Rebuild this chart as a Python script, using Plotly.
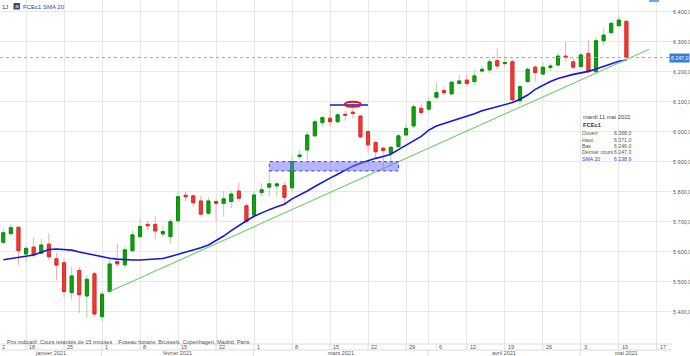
import plotly.graph_objects as go

# ---------------- data ----------------
dates = ["2021-01-13","2021-01-14","2021-01-15","2021-01-18","2021-01-19","2021-01-20","2021-01-21","2021-01-22",
         "2021-01-25","2021-01-26","2021-01-27","2021-01-28","2021-01-29",
         "2021-02-01","2021-02-02","2021-02-03","2021-02-04","2021-02-05","2021-02-08","2021-02-09","2021-02-10",
         "2021-02-11","2021-02-12","2021-02-15","2021-02-16","2021-02-17","2021-02-18","2021-02-19","2021-02-22",
         "2021-02-23","2021-02-24","2021-02-25","2021-02-26",
         "2021-03-01","2021-03-02","2021-03-03","2021-03-04","2021-03-05","2021-03-08","2021-03-09","2021-03-10",
         "2021-03-11","2021-03-12","2021-03-15","2021-03-16","2021-03-17","2021-03-18","2021-03-19","2021-03-22",
         "2021-03-23","2021-03-24","2021-03-25","2021-03-26","2021-03-29","2021-03-30","2021-03-31",
         "2021-04-01","2021-04-06","2021-04-07","2021-04-08","2021-04-09","2021-04-12","2021-04-13","2021-04-14",
         "2021-04-15","2021-04-16","2021-04-19","2021-04-20","2021-04-21","2021-04-22","2021-04-23","2021-04-26",
         "2021-04-27","2021-04-28","2021-04-29","2021-04-30",
         "2021-05-03","2021-05-04","2021-05-05","2021-05-06","2021-05-07","2021-05-10","2021-05-11"]
future_days = ["2021-05-12","2021-05-13","2021-05-14","2021-05-17"]

opens = [5631,5660,5681,5592,5615,5595,5625,5576,5563,5463,5537,5452,5526,
         5383,5467,5567,5556,5603,5650,5691,5691,5659,5650,5703,5788,5786,5769,5728,5767,5761,5767,5802,5753,
         5722,5797,5815,5819,5820,5813,5917,5939,5986,6030,6045,6033,6058,6065,6052,6000,5964,5945,5928,5950,5989,6019,6078,
         6075,6115,6137,6126,6161,6172,6167,6202,6206,6237,6227,6233,6103,6167,6215,6192,6214,6222,6252,6233,
         6217,6261,6200,6303,6330,6353,6368]
highs = [5678,5692,5685,5620,5647,5642,5661,5595,5578,5550,5550,5522,5533,
         5467,5572,5628,5617,5672,5711,5702,5719,5686,5709,5800,5800,5789,5786,5781,5775,5803,5803,5830,5763,
         5803,5828,5872,5833,5833,5917,5939,6000,6039,6052,6089,6063,6070,6097,6056,6006,5970,5948,5952,5992,6030,6094,6094,
         6115,6164,6150,6169,6189,6189,6206,6222,6245,6278,6250,6241,6156,6215,6222,6230,6228,6264,6300,6245,
         6261,6306,6315,6345,6367,6389,6371]
lows = [5625,5653,5556,5567,5581,5592,5572,5506,5448,5439,5395,5378,5383,
        5367,5461,5550,5545,5600,5645,5672,5641,5650,5626,5695,5767,5750,5719,5722,5702,5717,5745,5767,5695,
        5717,5783,5783,5783,5756,5797,5906,5906,5983,6017,6017,6028,6036,6045,5978,5930,5909,5878,5883,5948,5986,6011,6056,
        6061,6108,6122,6122,6161,6152,6156,6195,6195,6211,6217,6100,6089,6161,6167,6189,6203,6219,6233,6208,
        6211,6195,6197,6286,6328,6352,6246]
closes = [5663,5680,5603,5611,5589,5622,5583,5555,5467,5519,5456,5508,5392,
          5458,5559,5559,5606,5656,5684,5686,5669,5667,5700,5783,5783,5763,5725,5769,5761,5776,5792,5778,5700,
          5789,5806,5826,5826,5781,5900,5922,5989,6033,6047,6033,6056,6055,6061,5983,5956,5933,5937,5948,5986,6011,6083,6064,
          6100,6130,6130,6165,6169,6161,6186,6208,6233,6219,6230,6106,6150,6208,6197,6215,6219,6252,6247,6215,
          6256,6200,6303,6322,6361,6372,6247]
sma20 = [5573,5577,5581,5584,5589,5598,5607,5609,5608,5605,5599,5594,5587,
         5582,5578,5575,5573,5572,5572,5573,5574,5577,5584,5591,5599,5606,5613,5622,5636,5652,5670,5688,5703,
         5718,5730,5740,5750,5758,5776,5788,5802,5817,5832,5845,5858,5872,5885,5895,5904,5911,5917,5925,5940,5955,5968,5984,
         6005,6019,6027,6035,6043,6050,6060,6070,6077,6084,6090,6097,6108,6122,6141,6155,6167,6177,6185,6191,
         6196,6201,6209,6217,6226,6235,6239]

# weekly ticks (label, date) and an extra grid line on 1 April
tick_dates = ["2021-01-18","2021-01-25","2021-02-01","2021-02-08","2021-02-15","2021-02-22","2021-03-01","2021-03-08",
              "2021-03-15","2021-03-22","2021-03-29","2021-04-06","2021-04-12","2021-04-19","2021-04-26","2021-05-03",
              "2021-05-10","2021-05-17"]
tick_labels = ["18","25","1","8","15","22","1","8","15","22","29","6","12","19","26","3","10","17"]
grid_dates = ["2021-01-18","2021-01-25","2021-02-01","2021-02-08","2021-02-15","2021-02-22","2021-03-01","2021-03-08",
              "2021-03-15","2021-03-22","2021-03-29","2021-04-01","2021-04-12","2021-04-19","2021-04-26","2021-05-03",
              "2021-05-10","2021-05-17"]
month_labels = ["janvier 2021","février 2021","mars 2021","avril 2021","mai 2021"]
month_starts = ["2021-01-13","2021-02-01","2021-03-01","2021-04-01","2021-05-03"]

price_ticks = [5400,5500,5600,5700,5800,5900,6000,6100,6200,6300,6400]
price_tick_text = ["5 400,0","5 500,0","5 600,0","5 700,0","5 800,0","5 900,0","6 000,0","6 100,0","6 200,0","6 300,0","6 400,0"]

last_price = 6247
last_price_text = "6 247,0"

trend_dates = ["2021-02-02","2021-05-14"]
trend_prices = [5467,6275]

zone_dates = ["2021-03-03","2021-03-26"]
zone_prices = [5869,5900]

high_line_dates = ["2021-03-15","2021-03-22"]
high_line_price = 6089
circle_date = "2021-03-18"
circle_prices = [6083,6100]

info_title = "mardi 11 mai 2021"
info_symbol = "FCEc1"
info_rows = [("Ouvert","6 368,0"),("Haut","6 371,0"),("Bas","6 246,0"),("Dernier cours","6 247,0"),("SMA 20","6 238,9")]

# ---------------- helpers ----------------
axis_days = dates + future_days
idx = {d: i for i, d in enumerate(axis_days)}
x = [idx[d] for d in dates]

W, H = 690, 356
ML, MR, MT, MB = 0, 18, 0, 12
PW, PH = W - ML - MR, H - MT - MB

def py(px):  # pixel (from top) -> paper y
    return (PH - px) / PH

def pxx(px):
    return px / PW

FONT = "Liberation Sans, Arial, sans-serif"
GRID = "#e8e8e8"

fig = go.Figure()

# light wicks (full OHLC)
fig.add_trace(go.Candlestick(
    x=x, open=opens, high=highs, low=lows, close=closes,
    increasing=dict(line=dict(color="#a3dca3", width=1), fillcolor="#a3dca3"),
    decreasing=dict(line=dict(color="#f6a9a9", width=1), fillcolor="#f6a9a9"),
    whiskerwidth=0, hoverinfo="skip", showlegend=False))
# solid bodies
body_hi = [max(o, c) for o, c in zip(opens, closes)]
body_lo = [min(o, c) for o, c in zip(opens, closes)]
fig.add_trace(go.Candlestick(
    x=x, open=opens, high=body_hi, low=body_lo, close=closes,
    increasing=dict(line=dict(color="#0c8c0c", width=1), fillcolor="#12a012"),
    decreasing=dict(line=dict(color="#dc2a24", width=1), fillcolor="#ee3b34"),
    whiskerwidth=0, hoverinfo="skip", showlegend=False))

# SMA 20
fig.add_trace(go.Scatter(x=x, y=sma20, mode="lines", line=dict(color="#1414e6", width=1.6),
                         hoverinfo="skip", showlegend=False))
# trend line
fig.add_trace(go.Scatter(x=[idx[d] for d in trend_dates], y=trend_prices, mode="lines",
                         line=dict(color="#74d074", width=1.2), hoverinfo="skip", showlegend=False))

shapes = []
# support zone
shapes.append(dict(type="rect", xref="x", yref="y", x0=idx[zone_dates[0]], x1=idx[zone_dates[1]],
                   y0=zone_prices[0], y1=zone_prices[1], fillcolor="rgba(110,110,255,0.5)",
                   line=dict(color="#3a3aff", width=1, dash="dot"), layer="above"))
# high line and circle
shapes.append(dict(type="line", xref="x", yref="y", x0=idx[high_line_dates[0]], x1=idx[high_line_dates[1]],
                   y0=high_line_price, y1=high_line_price, line=dict(color="#1414e6", width=1.5)))
ci = idx[circle_date]
shapes.append(dict(type="circle", xref="x", yref="y", x0=ci - 1.04, x1=ci + 1.04,
                   y0=circle_prices[0], y1=circle_prices[1], line=dict(color="#e01818", width=2)))
# last price dashed line
shapes.append(dict(type="line", xref="paper", yref="y", x0=0, x1=1, y0=last_price, y1=last_price,
                   line=dict(color="#f08a8a", width=1, dash="3px,3px")))
# bottom axis rows
row1 = -6 / PH
row2 = -12 / PH
for yy in (0, row1):
    shapes.append(dict(type="line", xref="paper", yref="paper", x0=0, x1=1, y0=yy, y1=yy,
                       line=dict(color="#dcdcdc", width=1)))
for d in tick_dates:
    shapes.append(dict(type="line", xref="x", yref="paper", x0=idx[d], x1=idx[d], y0=row1, y1=0,
                       line=dict(color="#dcdcdc", width=1)))
for d in month_starts[1:]:
    shapes.append(dict(type="line", xref="x", yref="paper", x0=idx[d] - 0.1, x1=idx[d] - 0.1, y0=row2, y1=row1,
                       line=dict(color="#dcdcdc", width=1)))
# header icon
shapes.append(dict(type="rect", xref="paper", yref="paper", x0=pxx(13.5), x1=pxx(20), y0=py(9.5), y1=py(3),
                   fillcolor="#3b4a6e", line=dict(width=0)))
# top marker
shapes.append(dict(type="rect", xref="paper", yref="paper", x0=pxx(649), x1=pxx(659), y0=py(2), y1=1,
                   fillcolor="#6aaaf0", line=dict(width=0)))

ann = []
small = dict(family=FONT, size=5.5, color="#555555")
for d, lab in zip(tick_dates, tick_labels):
    ann.append(dict(x=idx[d] + 0.1, y=row1 / 2, xref="x", yref="paper", text=lab, showarrow=False,
                    xanchor="left", yanchor="middle", font=small))
ann.append(dict(x=0, y=row1 / 2, xref="paper", yref="paper", text="2", showarrow=False,
                xanchor="left", yanchor="middle", font=small))
bounds = [-0.43] + [idx[d] - 0.1 for d in month_starts[1:]] + [88]
for i, lab in enumerate(month_labels):
    cx = (bounds[i] + bounds[i + 1]) / 2
    ann.append(dict(x=cx, y=(row1 + row2) / 2, xref="x", yref="paper", text=lab, showarrow=False,
                    xanchor="center", yanchor="middle", font=small))
ann.append(dict(x=pxx(5), y=py(342), xref="paper", yref="paper",
                text="Prix indicatif. Cours retardés de 15 minutes&nbsp;&nbsp;&nbsp;&nbsp;Fuseau horaire: Brussels, Copenhagen, Madrid, Paris",
                showarrow=False, xanchor="left", yanchor="middle", font=small))
# header
ann.append(dict(x=0, y=py(6.5), xref="paper", yref="paper", text="1J", showarrow=False,
                xanchor="left", yanchor="middle", font=dict(family=FONT, size=6, color="#444")))
ann.append(dict(x=pxx(16.7), y=py(6.3), xref="paper", yref="paper", text="≋", showarrow=False,
                xanchor="center", yanchor="middle", font=dict(family=FONT, size=5, color="#ffffff")))
ann.append(dict(x=pxx(21), y=py(6.5), xref="paper", yref="paper", text="FCEc1", showarrow=False,
                xanchor="left", yanchor="middle", font=dict(family=FONT, size=6, color="#444")))
ann.append(dict(x=pxx(41), y=py(6.5), xref="paper", yref="paper", text="SMA 20", showarrow=False,
                xanchor="left", yanchor="middle", font=dict(family=FONT, size=6, color="#3b3bdc")))
# info box
ann.append(dict(x=pxx(581), y=py(117), xref="paper", yref="paper", text=info_title, showarrow=False,
                xanchor="left", yanchor="middle", font=dict(family=FONT, size=5.8, color="#444")))
ann.append(dict(x=pxx(581), y=py(125), xref="paper", yref="paper", text="<b>" + info_symbol + "</b>", showarrow=False,
                xanchor="left", yanchor="middle", font=dict(family=FONT, size=5.8, color="#333")))
for k, (lab, val) in enumerate(info_rows):
    yy = py(133.3 + k * 6.3)
    col = "#3b3bdc" if lab.startswith("SMA") else "#555"
    ann.append(dict(x=pxx(580), y=yy, xref="paper", yref="paper", text=lab, showarrow=False,
                    xanchor="left", yanchor="middle", font=dict(family=FONT, size=5.2, color=col)))
    ann.append(dict(x=pxx(633), y=yy, xref="paper", yref="paper", text=val, showarrow=False,
                    xanchor="right", yanchor="middle", font=dict(family=FONT, size=5.2, color=col)))
# last price label on axis
ann.append(dict(x=(PW + MR) / PW, y=last_price, xref="paper", yref="y", text=last_price_text, showarrow=False,
                xanchor="right", yanchor="middle", bgcolor="#2f7fd6", borderpad=1,
                font=dict(family=FONT, size=5.2, color="#ffffff")))

fig.update_layout(
    width=W, height=H, margin=dict(l=ML, r=MR, t=MT, b=MB, autoexpand=False),
    paper_bgcolor="white", plot_bgcolor="white",
    boxgap=0.42, showlegend=False,
    shapes=shapes, annotations=ann,
    xaxis=dict(range=[-0.43, 88], tickvals=[idx[d] for d in grid_dates], showticklabels=False,
               showgrid=True, gridcolor=GRID, gridwidth=1, zeroline=False, showline=False,
               rangeslider=dict(visible=False), fixedrange=True, automargin=False),
    yaxis=dict(range=[5292, 6439], side="right", tickvals=price_ticks, ticktext=price_tick_text,
               showgrid=True, gridcolor=GRID, gridwidth=1, zeroline=False, showline=False, ticks="",
               ticklabelstandoff=0, automargin=False,
               tickfont=dict(family=FONT, size=5.5, color="#555"), fixedrange=True),
)

fig.write_html("out.html", config={"displayModeBar": False},
               post_script="document.body.style.margin='0';document.body.style.overflow='hidden';")
